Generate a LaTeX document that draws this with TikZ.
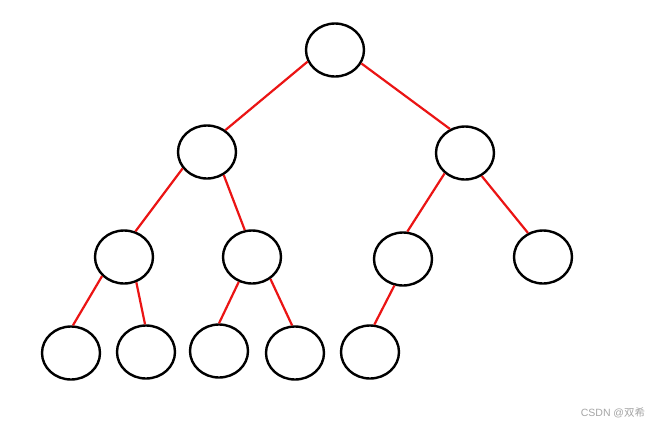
\documentclass[tikz,border=0pt]{standalone}
\usepackage{fontspec}
\setmainfont{Liberation Sans}
\newfontfamily\cjk{Noto Sans CJK SC}
\usetikzlibrary{shapes.geometric}
\definecolor{edgered}{RGB}{235,20,20}
\definecolor{wmgray}{RGB}{165,165,165}
\tikzset{
  tnode/.style={ellipse, draw=black, line width=2.4pt, minimum width=58pt, minimum height=53pt, inner sep=0pt},
  tedge/.style={draw=edgered, line width=2.2pt}
}
\begin{document}
\begin{tikzpicture}[x=1pt,y=-1pt]
\useasboundingbox[fill=white] (0,0) rectangle (662,429);
\node[tnode] (r) at (335,50) {};
\node[tnode] (l) at (207,152) {};
\node[tnode] (rr) at (465,153) {};
\node[tnode] (ll) at (124,257) {};
\node[tnode] (lr) at (252,257) {};
\node[tnode] (rl) at (403,259) {};
\node[tnode] (rrr) at (543,257) {};
\node[tnode] (a) at (71,353) {};
\node[tnode] (b) at (146,352) {};
\node[tnode] (c) at (219,351) {};
\node[tnode] (d) at (295,353) {};
\node[tnode] (e) at (370,352) {};
\path[tedge] (r.203) -- (l.50);
\path[tedge] (r.333) -- (rr.122);
\path[tedge] (l.214) -- (ll.66);
\path[tedge] (l.306) -- (lr.105);
\path[tedge] (rr.225) -- (rl.81);
\path[tedge] (rr.306) -- (rrr.122);
\path[tedge] (ll.221) -- (a.86);
\path[tedge] (ll.296) -- (b.92);
\path[tedge] (lr.242) -- (c.90);
\path[tedge] (lr.310) -- (d.96);
\path[tedge] (rl.252) -- (e.81);
\node[text=wmgray, font=\fontsize{10.5}{12}\selectfont, inner sep=0pt] (wm) at (613,413) {CSDN @{\cjk 双希}};
\end{tikzpicture}
\end{document}
